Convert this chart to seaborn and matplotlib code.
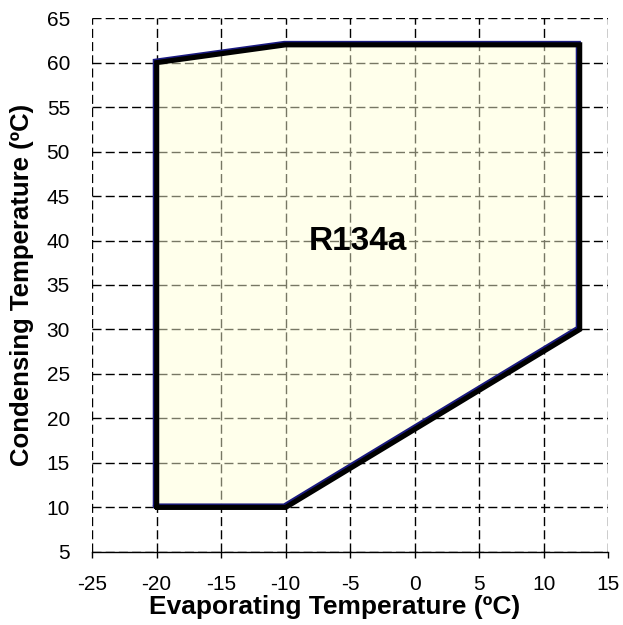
import matplotlib
matplotlib.use("Agg")
import matplotlib.pyplot as plt
import matplotlib.patheffects as pe
import seaborn as sns
import pandas as pd

# Envelope data (evaporating vs condensing temperature)
evap_temp = [-20, -10, 12.8, 12.8, -10, -20, -20]
cond_temp = [10, 10, 30, 62, 62, 60, 10]
x_ticks = [-25, -20, -15, -10, -5, 0, 5, 10, 15]
y_ticks = [5, 10, 15, 20, 25, 30, 35, 40, 45, 50, 55, 60, 65]
refrigerant = "R134a"

sns.set_style("white")
plt.rcParams["font.family"] = ["Liberation Sans", "DejaVu Sans"]
plt.rcParams["text.color"] = "black"
plt.rcParams["axes.labelcolor"] = "black"

fig = plt.figure(figsize=(6.23, 6.25), dpi=100)
ax = fig.add_axes([0.148, 0.117, 0.828, 0.854])

df = pd.DataFrame({"evap": evap_temp, "cond": cond_temp})

# grid
ax.set_axisbelow(True)
ax.grid(True, color="black", linestyle=(0, (6.5, 3)), linewidth=1.0)

# fill (semi-transparent so grid shows through)
ax.fill(df["evap"], df["cond"], color=(1.0, 1.0, 213 / 255), alpha=0.47,
        zorder=2, linewidth=0)

# outline
sns.lineplot(data=df, x="evap", y="cond", sort=False, estimator=None,
             ax=ax, color="black", linewidth=3.7, zorder=3,
             path_effects=[pe.SimpleLineShadow(offset=(-1.0, 1.0),
                                               shadow_color="#1a1a80", alpha=1),
                           pe.Normal()])
for l in ax.lines:
    l.set_solid_joinstyle("miter")

ax.text(-4.4, 39.9, refrigerant, fontsize=24, fontweight="bold",
        ha="center", va="center", zorder=4, color="black")

ax.set_xlim(-25, 15)
ax.set_ylim(5, 65)
ax.set_xticks(x_ticks)
ax.set_yticks(y_ticks)
ax.set_xticklabels([str(v) for v in x_ticks])
ax.set_yticklabels([str(v) for v in y_ticks])

for s in ["top", "right", "left"]:
    ax.spines[s].set_visible(False)
ax.spines["bottom"].set_visible(True)
ax.spines["bottom"].set_color("black")
ax.spines["bottom"].set_linewidth(1.0)

ax.tick_params(axis="x", direction="out", length=4, width=1, colors="black",
               labelsize=15, pad=13, bottom=True)
ax.tick_params(axis="y", length=0, colors="black",
               labelsize=15, pad=16, left=False)

ax.set_xlabel("Evaporating Temperature (ºC)", fontsize=19, fontweight="bold")
ax.set_ylabel("Condensing Temperature (ºC)", fontsize=18.5, fontweight="bold")
ax.xaxis.set_label_coords(0.469, -0.103)
ax.yaxis.set_label_coords(-0.136, 0.5)
ax.xaxis.label.set_va("center")
ax.yaxis.label.set_va("center")

fig.savefig("out.png", dpi=100)
